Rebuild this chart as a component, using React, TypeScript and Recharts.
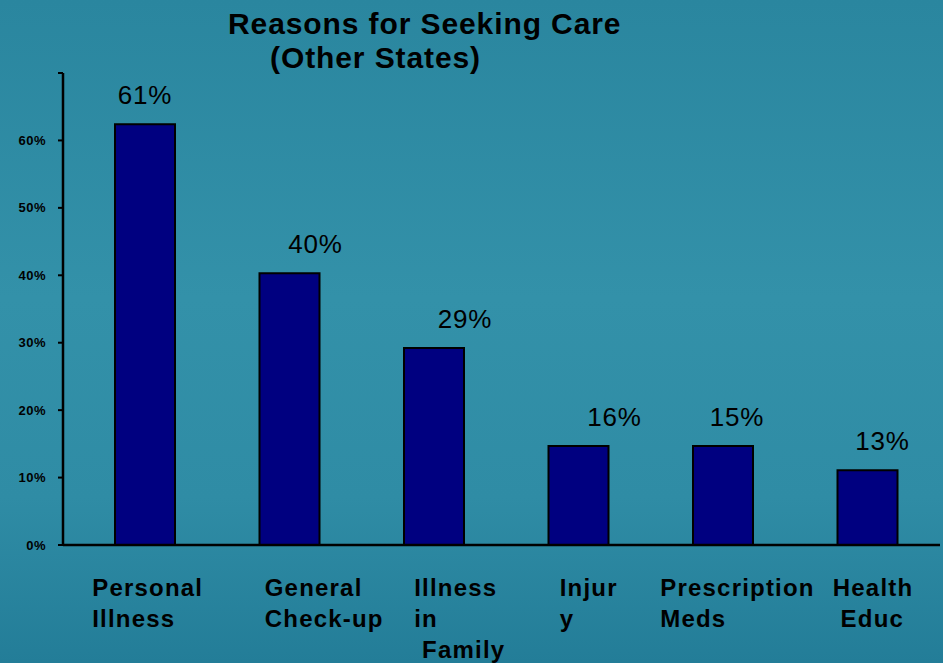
import React from "react"
import { BarChart, Bar, XAxis, YAxis, LabelList } from "recharts"

const categories = ["Personal Illness", "General Check-up", "Illness in Family", "Injury", "Prescription Meds", "Health Educ"]
const categoryLines = [
  ["Personal", "Illness"],
  ["General", "Check-up"],
  ["Illness", "in", " Family"],
  ["Injur", "y"],
  ["Prescription", "Meds"],
  ["Health", " Educ"],
]
// bar heights as drawn (percent)
const barValues = [62.4, 40.3, 29.2, 14.7, 14.7, 11.1]
// printed labels above the bars
const barLabels = ["61%", "40%", "29%", "16%", "15%", "13%"]
const yTicks = [0, 10, 20, 30, 40, 50, 60, 70]

const data = categories.map((name, i) => ({ name, value: barValues[i], label: barLabels[i] }))

const FONT = "'Liberation Sans', Arial, sans-serif"

// layout: text start of each category label, and shift of value labels, relative to the band centre
const tickStart = [-53, -25, -20, -19, -63, -35]
const labelShift = [0, 26, 31, 36, 14, 15]

function CategoryTick(props: any) {
  const { x, y, payload, index } = props
  const lines = categoryLines[index] ?? [payload.value]
  const tx = x + (tickStart[index] ?? -30)
  return (
    <text
      x={tx}
      y={y + 51}
      fill="#000"
      fontFamily={FONT}
      fontWeight="bold"
      fontSize={24}
      letterSpacing={1.2}
      style={{ whiteSpace: "pre" }}
    >
      {lines.map((l, i) => (
        <tspan key={i} x={tx} dy={i === 0 ? 0 : 31}>
          {l}
        </tspan>
      ))}
    </text>
  )
}

function TopLabel(props: any) {
  const { x, y, width, value, index } = props
  const cx = x + width / 2 + (labelShift[index] ?? 0)
  return (
    <text x={cx} y={y - 20} textAnchor="middle" fill="#000" fontFamily={FONT} fontSize={26} letterSpacing={0.8}>
      {value}
    </text>
  )
}

export default function App() {
  return (
    <div
      style={{
        position: "relative",
        width: 943,
        height: 663,
        background: "linear-gradient(180deg, #2a869f 0%, #3391a9 45%, #2f8ca5 75%, #237d98 100%)",
      }}
    >
      <style>{"body{margin:0}"}</style>
      <BarChart width={943} height={663} data={data} margin={{ top: 73, right: 3, bottom: 0, left: 0 }}>
        <XAxis
          dataKey="name"
          height={118}
          padding={{ left: 10, right: 0 }}
          axisLine={{ stroke: "#000", strokeWidth: 2.5 }}
          tickLine={false}
          tickSize={0}
          tickMargin={0}
          interval={0}
          tick={<CategoryTick />}
        />
        <YAxis
          width={63}
          domain={[0, 70]}
          ticks={yTicks}
          interval={0}
          tickFormatter={(v: number) => (v === 70 ? "" : `${v}%`)}
          axisLine={{ stroke: "#000", strokeWidth: 2.5 }}
          tickLine={{ stroke: "#000", strokeWidth: 2 }}
          tickSize={5}
          tickMargin={12}
          tick={{ fill: "#000", fontSize: 13, fontWeight: "bold", fontFamily: FONT, letterSpacing: 0.5 }}
        />
        <Bar dataKey="value" barSize={60} fill="#000080" stroke="#000" strokeWidth={2} isAnimationActive={false}>
          <LabelList dataKey="label" content={<TopLabel />} />
        </Bar>
      </BarChart>
      <svg
        width={943}
        height={663}
        style={{ position: "absolute", left: 0, top: 0, pointerEvents: "none" }}
      >
        <text x={228} y={34} fill="#000" fontFamily={FONT} fontWeight="bold" fontSize={30} letterSpacing={0.9}>
          Reasons for Seeking Care
        </text>
        <text x={270} y={68} fill="#000" fontFamily={FONT} fontWeight="bold" fontSize={30} letterSpacing={0.9}>
          (Other States)
        </text>
      </svg>
    </div>
  )
}
